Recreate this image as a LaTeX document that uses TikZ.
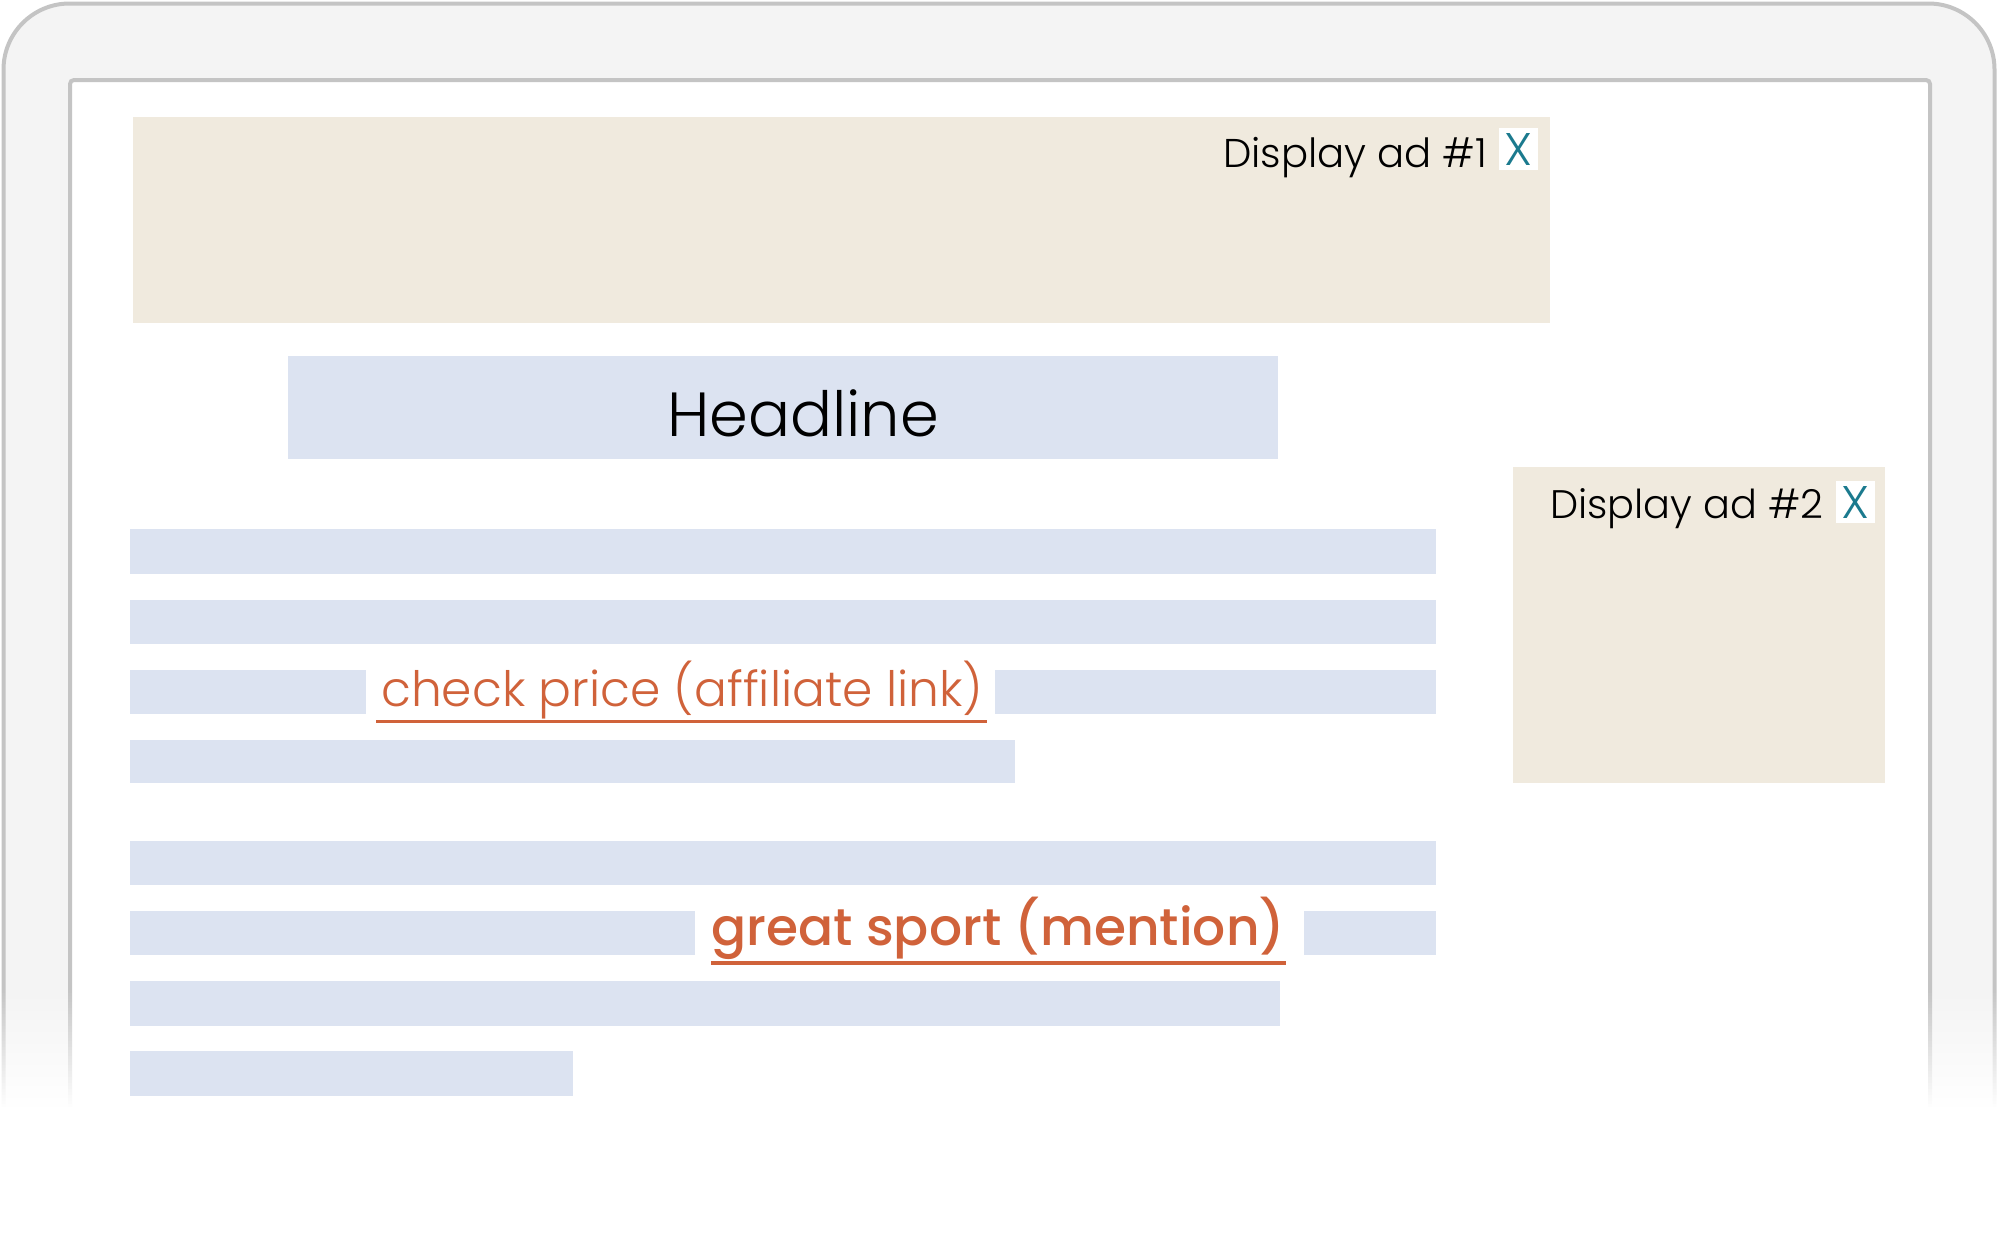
\documentclass[tikz,border=0pt]{standalone}
\usepackage{fontspec}
\setmainfont{Poppins}[UprightFont=* Light, BoldFont=* Medium]
\definecolor{framefill}{HTML}{F4F4F4}
\definecolor{framestroke}{HTML}{C4C4C4}
\definecolor{adfill}{HTML}{F0EADE}
\definecolor{barfill}{HTML}{DCE3F1}
\definecolor{linkc}{HTML}{D0623A}
\definecolor{xteal}{HTML}{1B7A8E}
\tikzset{
  bar/.style={fill=barfill, draw=none, inner sep=0, anchor=north west},
  adbox/.style={fill=adfill, draw=none, inner sep=0, anchor=north west},
  lbl/.style={inner sep=0, anchor=base west, text=black},
  xbox/.style={fill=white, draw=none, inner sep=0, minimum width=39pt, minimum height=42pt, text=xteal, font=\fontsize{44}{50}\selectfont},
  uline/.style={draw=linkc, line width=3pt},
}
\begin{document}
\begin{tikzpicture}[x=1pt,y=-1pt]
\useasboundingbox (0,0) rectangle (2000,1254);
% device frame
\draw[fill=framefill, draw=framestroke, line width=4pt, rounded corners=66pt] (3.5,1300) -- (3.5,3.5) -- (1994.5,3.5) -- (1994.5,1300);
\draw[fill=white, draw=framestroke, line width=4pt, rounded corners=4pt] (70,1250) -- (70,80) -- (1930,80) -- (1930,1250);
% fade to white
\foreach \i in {0,...,39}{
  \pgfmathsetmacro{\op}{(\i+1)/40}
  \fill[white, opacity=\op] (-10,{990+\i*3}) rectangle (2010,{990+(\i+1)*3+0.3});
}
\fill[white] (-10,1110) rectangle (2010,1350);
% ads
\node[adbox, minimum width=1417pt, minimum height=206pt] (ad1) at (133,117) {};
\node[adbox, minimum width=372pt, minimum height=316pt] (ad2) at (1513,467) {};
\node[lbl, font=\fontsize{44}{50}\selectfont] (ad1t) at (1223,167) {\resizebox{264pt}{!}{Display ad \#1}};
\node[lbl, font=\fontsize{44}{50}\selectfont] (ad2t) at (1550,518) {\resizebox{273pt}{!}{Display ad \#2}};
\node[xbox] (x1) at (1518.5,149) {\resizebox{28pt}{32pt}{X}};
\node[xbox] (x2) at (1855,502) {\resizebox{28pt}{32pt}{X}};
% headline
\node[bar, minimum width=990pt, minimum height=103pt] (hbox) at (288,356) {};
\node[lbl, font=\fontsize{70}{80}\selectfont] (htext) at (667,436) {\resizebox{272pt}{!}{Headline}};
% text bars
\node[bar, minimum width=1306pt, minimum height=45pt] (r1) at (130,529) {};
\node[bar, minimum width=1306pt, minimum height=44pt] (r2) at (130,600) {};
\node[bar, minimum width=236pt, minimum height=44pt] (r3a) at (130,670) {};
\node[bar, minimum width=441pt, minimum height=44pt] (r3b) at (995,670) {};
\node[bar, minimum width=885pt, minimum height=43pt] (r4) at (130,740) {};
\node[bar, minimum width=1306pt, minimum height=44pt] (r5) at (130,841) {};
\node[bar, minimum width=565pt, minimum height=44pt] (r6a) at (130,911) {};
\node[bar, minimum width=132pt, minimum height=44pt] (r6b) at (1304,911) {};
\node[bar, minimum width=1150pt, minimum height=45pt] (r7) at (130,981) {};
\node[bar, minimum width=443pt, minimum height=45pt] (r8) at (130,1051) {};
% links
\node[lbl, text=linkc, font=\fontsize{60}{70}\selectfont] (l1) at (381,706) {\resizebox{602pt}{!}{check price (affiliate link)}};
\draw[uline] (376,721.5) -- (987,721.5);
\node[lbl, text=linkc, font=\fontsize{60}{70}\selectfont\bfseries] (l2) at (711,945) {\resizebox{574pt}{!}{great sport (mention)}};
\draw[uline, line width=3.5pt] (711,963) -- (1286,963);
\end{tikzpicture}
\end{document}
